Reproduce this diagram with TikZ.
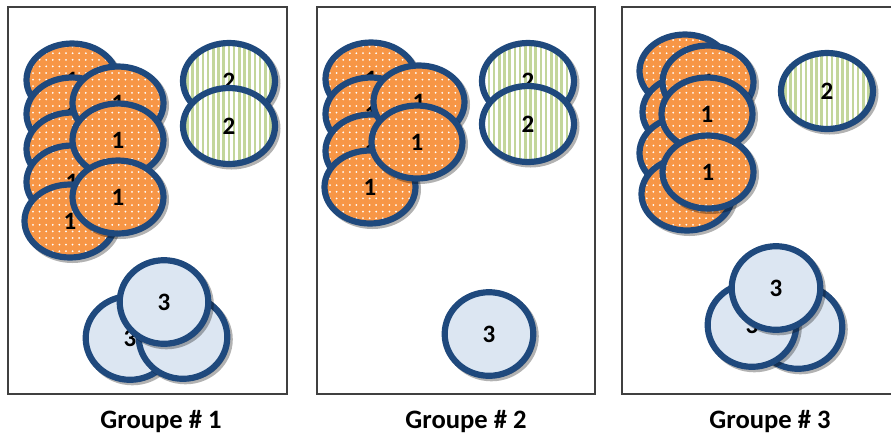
\documentclass[tikz,border=0pt]{standalone}
\usepackage{fontspec}
\setmainfont{Carlito}
\usetikzlibrary{shapes.geometric,patterns.meta,shadows}
\definecolor{discedge}{HTML}{1F497D}
\definecolor{orangefill}{HTML}{F79646}
\definecolor{greenline}{HTML}{C3D69B}
\definecolor{bluefill}{HTML}{DCE6F2}
\definecolor{boxline}{HTML}{404040}
\tikzset{
  disc/.style={ellipse, inner sep=0pt, draw=discedge, line width=3.1pt,
    font=\fontsize{12.5}{13}\selectfont\bfseries,
    drop shadow={shadow xshift=1.2pt, shadow yshift=-1.2pt, opacity=.3,
      fill=black, draw=black, line width=3.1pt}},
  orangedisc/.style={disc, minimum width=45.5pt, minimum height=36.5pt,
    preaction={fill=orangefill},
    preaction={pattern={Dots[distance=3.3pt, radius=.5pt]}, pattern color=white}},
  greendisc/.style={disc, minimum width=46pt, minimum height=38pt,
    preaction={fill=white},
    preaction={pattern={Lines[angle=90, distance=2.6pt, line width=1.3pt]}, pattern color=greenline}},
  bluedisc/.style={disc, minimum width=44.3pt, minimum height=41.8pt,
    preaction={fill=bluefill}},
  grouplabel/.style={font=\fontsize{13.3}{14}\selectfont\bfseries}
}
\begin{document}
\begin{tikzpicture}[x=0.5pt,y=-0.5pt]
\useasboundingbox (0,0) rectangle (891,436);
\draw[boxline, line width=1pt, fill=white] (8,7) rectangle (287,394);
\draw[boxline, line width=1pt, fill=white] (317,7) rectangle (595,394);
\draw[boxline, line width=1pt, fill=white] (622,7) rectangle (905,394);
% Groupe 1
\node[orangedisc] (g1a) at (72,80) {1};
\node[orangedisc] (g1b) at (72,114) {1};
\node[orangedisc] (g1c) at (72,149) {1};
\node[orangedisc] (g1d) at (72,182) {1};
\node[orangedisc] (g1e) at (70,221) {1};
\node[orangedisc] (g1f) at (118,103) {1};
\node[orangedisc] (g1g) at (118,140) {1};
\node[orangedisc] (g1h) at (118,197) {1};
\node[greendisc] (g1i) at (229,81) {2};
\node[greendisc] (g1j) at (229,126) {2};
\node[bluedisc] (g1k) at (130,338) {3};
\node[bluedisc] (g1l) at (183,337) {};
\node[bluedisc] (g1m) at (164,302) {3};
\node[grouplabel] (lab1) at (161,422) {Groupe \# 1};
% Groupe 2
\node[orangedisc] (g2a) at (371,79) {1};
\node[orangedisc] (g2b) at (371,114) {1};
\node[orangedisc] (g2c) at (371,151) {1};
\node[orangedisc] (g2d) at (370,187) {1};
\node[orangedisc] (g2e) at (419,102) {1};
\node[orangedisc] (g2f) at (417,142) {1};
\node[greendisc] (g2g) at (528,81) {2};
\node[greendisc] (g2h) at (528,124) {2};
\node[bluedisc] (g2i) at (489,334) {3};
\node[grouplabel] (lab2) at (466,422) {Groupe \# 2};
% Groupe 3
\node[orangedisc] (g3a) at (685,71) {1};
\node[orangedisc] (g3b) at (688,112) {1};
\node[orangedisc] (g3c) at (685,153) {1};
\node[orangedisc] (g3d) at (687,194) {1};
\node[orangedisc] (g3e) at (708,82) {1};
\node[orangedisc] (g3f) at (707,114) {1};
\node[orangedisc] (g3g) at (708,172) {1};
\node[greendisc] (g3h) at (827,91) {2};
\node[bluedisc] (g3i) at (798,327) {};
\node[bluedisc] (g3j) at (752,325) {3};
\node[bluedisc] (g3k) at (776,288) {3};
\node[grouplabel] (lab3) at (770,422) {Groupe \# 3};
\end{tikzpicture}
\end{document}
